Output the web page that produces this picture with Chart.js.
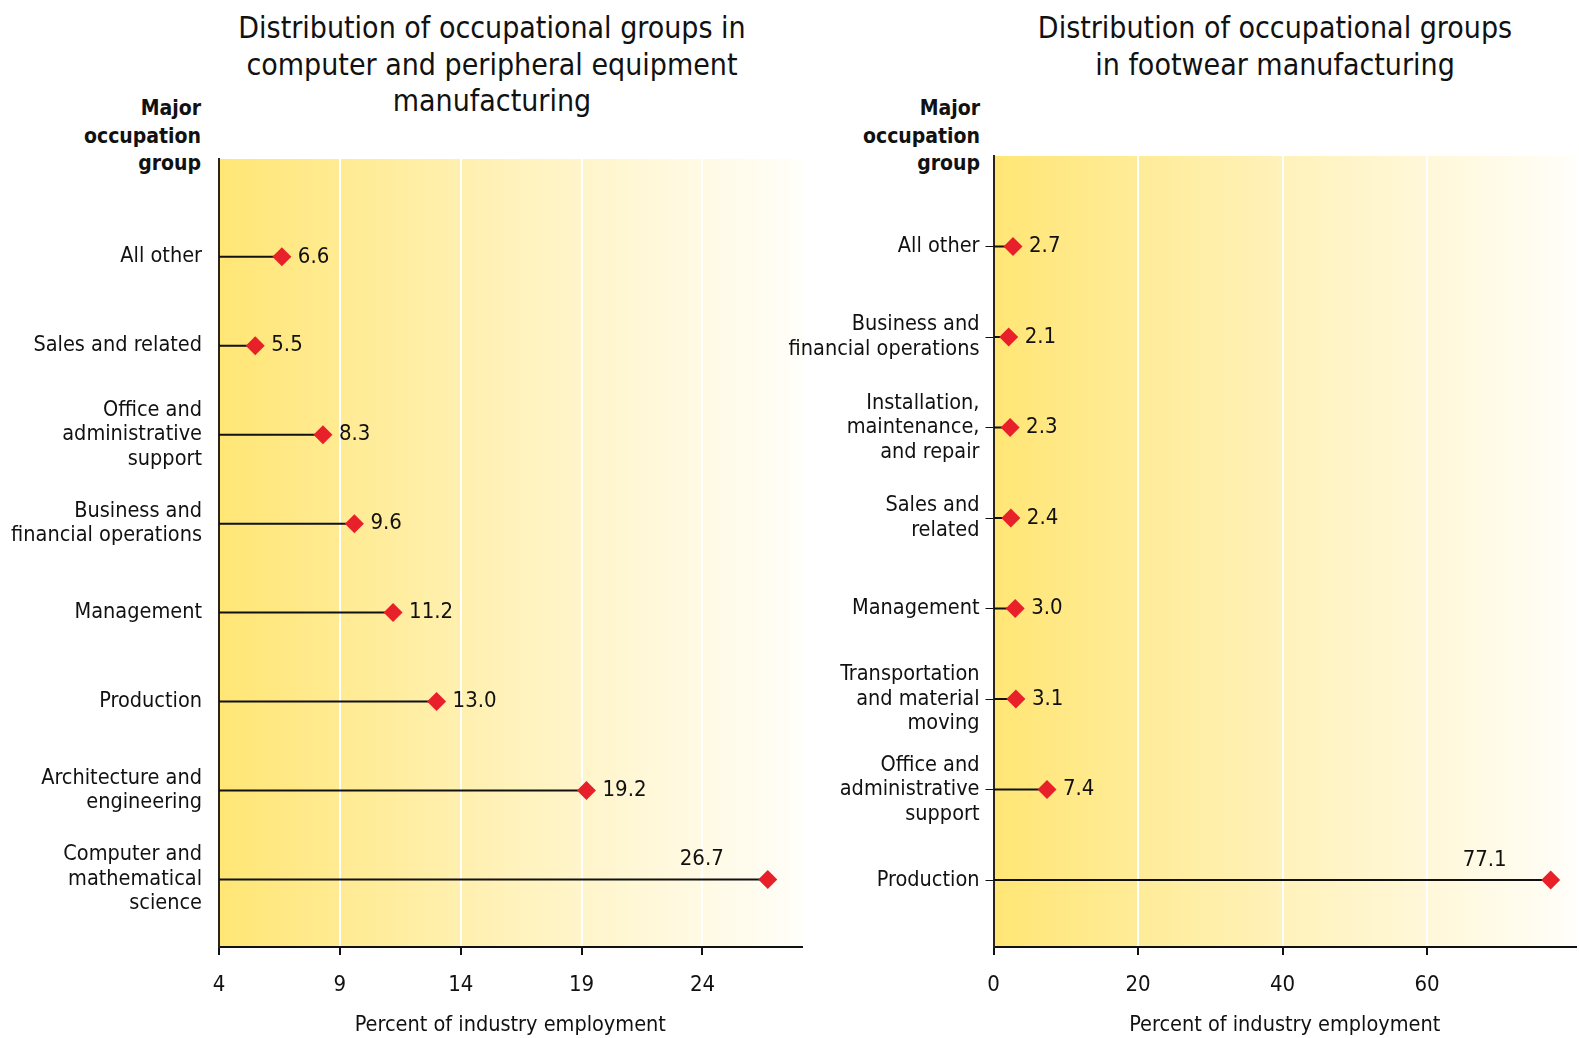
<!DOCTYPE html>
<html lang="en">
<head>
<meta charset="utf-8" />
<title>Distribution of occupational groups</title>
<style>
  html, body { margin: 0; padding: 0; background: #fff; }
  body {
    width: 1579px; height: 1038px; position: relative; overflow: hidden;
    font-family: "Liberation Sans Narrow", "DejaVu Sans Condensed", sans-serif;
    color: #111;
  }
  .title { position: absolute; top: 10px; width: 620px; text-align: center; font-size: 30px; line-height: 36.5px; }
  .head { position: absolute; top: 95px; width: 160px; text-align: right; font-weight: bold; font-size: 21px; line-height: 27.6px; }
  canvas { position: absolute; top: 0; }
</style>
</head>
<body>
<div class="title" style="left:182px">Distribution of occupational groups in<br>computer and peripheral equipment<br>manufacturing</div>
<div class="title" style="left:965px">Distribution of occupational groups<br>in footwear manufacturing</div>
<div class="head" style="left:41px">Major<br>occupation<br>group</div>
<div class="head" style="left:820px">Major<br>occupation<br>group</div>

<canvas id="computer" width="810" height="1038" style="left:0"></canvas>
<canvas id="footwear" width="819" height="1038" style="left:760px"></canvas>

<script src="https://cdn.jsdelivr.net/npm/chart.js"></script>
<script>
  const FONT = '"Liberation Sans Narrow", "DejaVu Sans Condensed", sans-serif';

  const computerCategories = [
    ["All other"],
    ["Sales and related"],
    ["Office and", "administrative", "support"],
    ["Business and", "financial operations"],
    ["Management"],
    ["Production"],
    ["Architecture and", "engineering"],
    ["Computer and", "mathematical", "science"],
  ];
  const computerValues = [6.6, 5.5, 8.3, 9.6, 11.2, 13.0, 19.2, 26.7];
  const computerTicks = [4, 9, 14, 19, 24];

  const footwearCategories = [
    ["All other"],
    ["Business and", "financial operations"],
    ["Installation,", "maintenance,", "and repair"],
    ["Sales and", "related"],
    ["Management"],
    ["Transportation", "and material", "moving"],
    ["Office and", "administrative", "support"],
    ["Production"],
  ];
  const footwearValues = [2.7, 2.1, 2.3, 2.4, 3.0, 3.1, 7.4, 77.1];
  const footwearTicks = [0, 20, 40, 60];

  const axisTitle = "Percent of industry employment";

  const backgroundPlugin = {
    id: "bg",
    beforeDraw(chart) {
      const { ctx, chartArea: a } = chart;
      const g = ctx.createLinearGradient(a.left, 0, a.right, 0);
      g.addColorStop(0, "#ffe675");
      g.addColorStop(0.5, "#fff2bb");
      g.addColorStop(1, "#fffef9");
      ctx.save();
      ctx.fillStyle = g;
      ctx.fillRect(a.left, a.top, a.right - a.left, a.bottom - a.top);
      ctx.restore();
    },
  };

  const valueLabels = {
    id: "valueLabels",
    afterDatasetsDraw(chart) {
      const ctx = chart.ctx;
      const vals = chart.data.datasets[1].data.map((p) => p.x);
      const top = Math.max(...vals);
      const meta = chart.getDatasetMeta(1);
      ctx.save();
      ctx.font = "22px " + FONT;
      ctx.fillStyle = "#111";
      ctx.textBaseline = "middle";
      meta.data.forEach((el, i) => {
        const txt = vals[i].toFixed(1);
        if (vals[i] === top) {
          ctx.textAlign = "right";
          ctx.fillText(txt, el.x - 44, el.y - 20);
        } else {
          ctx.textAlign = "left";
          ctx.fillText(txt, el.x + 16, el.y);
        }
      });
      ctx.restore();
    },
  };

  function drawChart(id, cats, vals, ticks, s) {
    const stems = [];
    vals.forEach((v, i) => {
      stems.push({ x: s.xMin, y: i }, { x: v, y: i }, { x: null, y: null });
    });

    new Chart(document.getElementById(id), {
      type: "scatter",
      data: {
        datasets: [
          {
            type: "line",
            data: stems,
            borderColor: "#111",
            borderWidth: 2,
            pointRadius: 0,
            spanGaps: false,
            order: 2,
          },
          {
            data: vals.map((v, i) => ({ x: v, y: i })),
            pointStyle: "rectRot",
            pointRadius: 9.5,
            pointHoverRadius: 9.5,
            backgroundColor: "#e8202a",
            borderWidth: 0,
            order: 1,
          },
        ],
      },
      options: {
        responsive: false,
        animation: false,
        layout: { autoPadding: false, padding: { top: s.top, right: s.right, left: 0, bottom: 0 } },
        plugins: { legend: { display: false }, tooltip: { enabled: false } },
        scales: {
          x: {
            type: "linear",
            min: s.xMin,
            max: s.xMax,
            afterBuildTicks: (sc) => { sc.ticks = ticks.map((v) => ({ value: v })); },
            afterFit: (sc) => { sc.height = 91; },
            grid: {
              color: (c) => (c.index === 0 ? "rgba(0,0,0,0)" : "#ffffff"),
              lineWidth: 2,
              tickColor: "#111",
              tickLength: 8,
            },
            border: { color: "#111", width: 2 },
            ticks: { color: "#111", font: { family: FONT, size: 22 }, padding: 17, maxRotation: 0 },
            title: {
              display: true,
              text: axisTitle,
              color: "#111",
              font: { family: FONT, size: 21.5 },
              padding: { top: 0, bottom: 0 },
            },
          },
          y: {
            type: "linear",
            reverse: true,
            min: s.yMin,
            max: s.yMax,
            afterBuildTicks: (sc) => { sc.ticks = cats.map((c, i) => ({ value: i })); },
            afterFit: (sc) => { sc.width = s.axisW; },
            grid: {
              drawOnChartArea: false,
              drawTicks: s.yTicks,
              tickLength: 8,
              tickColor: "#111",
            },
            border: { color: "#2b2418", width: 2 },
            ticks: {
              autoSkip: false,
              color: "#111",
              font: { family: FONT, size: 21.5, lineHeight: 1.14 },
              padding: s.labelPad,
              callback: (v, i) => cats[i],
            },
          },
        },
      },
      plugins: [backgroundPlugin, valueLabels],
    });
  }

  drawChart("computer", computerCategories, computerValues, computerTicks, {
    xMin: 4, xMax: 28.1, yMin: -1.1, yMax: 7.76,
    top: 159, right: 8.4, axisW: 219, yTicks: false, labelPad: 17,
  });

  drawChart("footwear", footwearCategories, footwearValues, footwearTicks, {
    xMin: 0, xMax: 80.6, yMin: -1.0, yMax: 7.74,
    top: 156, right: 3, axisW: 233.5, yTicks: true, labelPad: 6,
  });
</script>
</body>
</html>
